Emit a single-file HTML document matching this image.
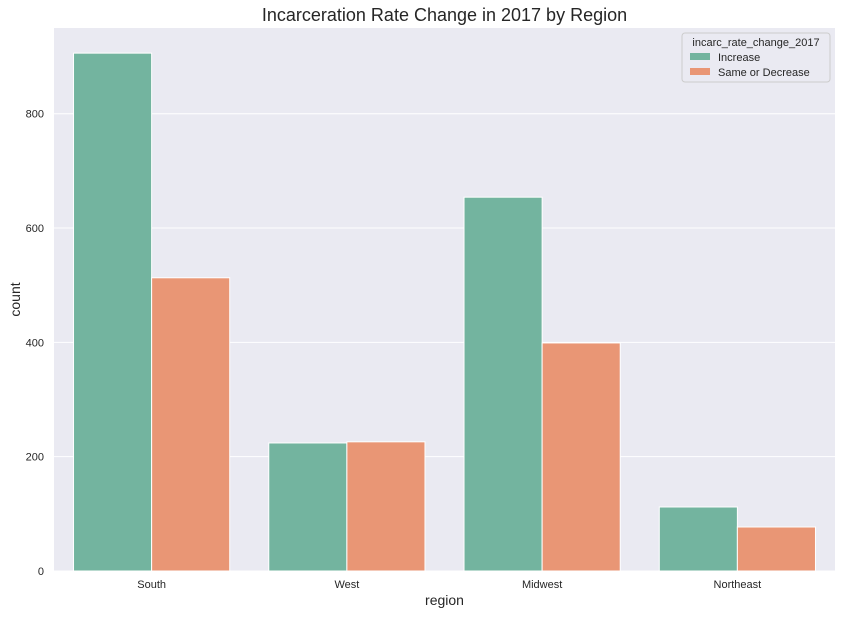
<!DOCTYPE html>
<html><head><meta charset="utf-8"><style>
body{margin:0;background:#fff;font-family:"Liberation Sans",Arial,sans-serif}
</style></head><body>
<svg id="c" width="841" height="615" xmlns="http://www.w3.org/2000/svg"></svg>
<script>
const categories=["South","West","Midwest","Northeast"];
const increaseValues=[906,224,654,112];
const decreaseValues=[513,226,399,77];
const yTicks=[0,200,400,600,800];
const seriesNames=["Increase","Same or Decrease"];
const colors=["#73b49f","#e99675"];
const L=54,R=835,T=28,B=571,yMax=950;
const svg=document.getElementById('c');
const ns="http://www.w3.org/2000/svg";
function y(v){return B-v*(B-T)/yMax;}
const band=(R-L)/categories.length;
function x(i){return L+band*i+band/2;}
function mk(tag,attrs,name,text){const e=document.createElementNS(ns,tag);for(const k in attrs)e.setAttribute(k,attrs[k]);


if(text!==undefined)e.textContent=text;svg.appendChild(e);return e;}
mk('rect',{x:L,y:T,width:R-L,height:B-T,fill:"#eaeaf2"},'plot-background');
yTicks.forEach(t=>{mk('line',{x1:L,x2:R,y1:y(t),y2:y(t),stroke:"#fff","stroke-width":1},'grid-line');
mk('text',{x:L-10,y:y(t)+4,"text-anchor":"end","font-size":11,fill:"#262626"},'y-tick-label',String(t));});
const bw=band*0.8/2;
categories.forEach((c,i)=>{
mk('rect',{x:x(i)-bw,y:y(increaseValues[i]),width:bw,height:B-y(increaseValues[i]),fill:colors[0],stroke:"#fff","stroke-width":1},'bar-increase-'+c.toLowerCase());
mk('rect',{x:x(i),y:y(decreaseValues[i]),width:bw,height:B-y(decreaseValues[i]),fill:colors[1],stroke:"#fff","stroke-width":1},'bar-decrease-'+c.toLowerCase());
mk('text',{x:x(i),y:B+17,"text-anchor":"middle","font-size":11,fill:"#262626"},'x-tick-label',c);
});
mk('text',{x:(L+R)/2,y:605,"text-anchor":"middle","font-size":14,fill:"#262626"},'x-axis-title','region');
mk('text',{x:20,y:(T+B)/2,"text-anchor":"middle","font-size":14,fill:"#262626",transform:`rotate(-90 20 ${(T+B)/2})`},'y-axis-title','count');
mk('text',{x:(L+R)/2,y:21,"text-anchor":"middle","font-size":18,fill:"#262626"},'chart-title','Incarceration Rate Change in 2017 by Region');
mk('rect',{x:682,y:33,width:148,height:49,rx:3,fill:"#eaeaf2",stroke:"#ccc","stroke-width":1},'legend');
mk('text',{x:756,y:46,"text-anchor":"middle","font-size":11,fill:"#262626"},'legend-title','incarc_rate_change_2017');
seriesNames.forEach((s,i)=>{
mk('rect',{x:690,y:53+i*15,width:20,height:7,fill:colors[i]},'legend-swatch');
mk('text',{x:718,y:61+i*15,"font-size":11,fill:"#262626"},'legend-entry',s);
});
</script>
</body></html>
